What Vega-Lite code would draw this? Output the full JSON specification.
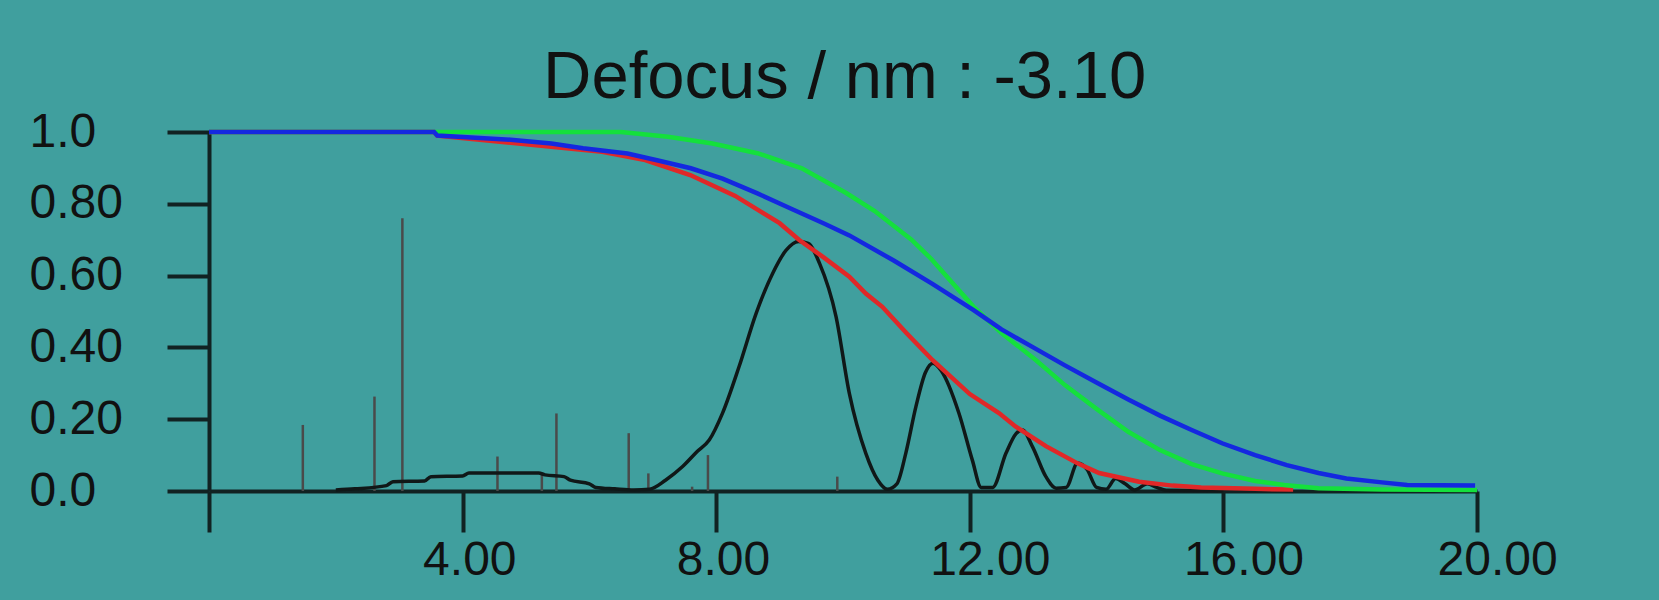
{
  "$schema": "https://vega.github.io/schema/vega-lite/v6.json",
  "width": 1268,
  "height": 359,
  "autosize": {"type": "none"},
  "padding": {"left": 209, "top": 132, "right": 182, "bottom": 109},
  "background": "#409f9e",
  "title": {
    "text": "Defocus / nm : -3.10",
    "anchor": "start",
    "frame": "group",
    "dx": 334,
    "dy": 65,
    "offset": 8,
    "baseline": "alphabetic",
    "font": "Liberation Sans",
    "fontSize": 67,
    "fontWeight": "normal",
    "color": "#111"
  },
  "config": {
    "view": {"stroke": null},
    "axis": {
      "grid": false,
      "title": null,
      "domainColor": "#112222",
      "domainWidth": 4,
      "tickColor": "#112222",
      "tickWidth": 4,
      "labelColor": "#111",
      "labelFont": "Liberation Sans",
      "labelFontSize": 48,
      "labelOverlap": false,
      "labelFlush": false
    }
  },
  "datasets": {
    "spikes": [
      {"x": 1.48, "y": 0.184}, {"x": 2.61, "y": 0.263}, {"x": 3.05, "y": 0.76},
      {"x": 4.55, "y": 0.096}, {"x": 5.25, "y": 0.045}, {"x": 5.48, "y": 0.216},
      {"x": 6.62, "y": 0.161}, {"x": 6.93, "y": 0.049}, {"x": 7.62, "y": 0.012},
      {"x": 7.87, "y": 0.1}, {"x": 9.91, "y": 0.04}
    ],
    "black": [
      {"x": 2.0, "y": 0.003}, {"x": 2.3, "y": 0.006}, {"x": 2.8, "y": 0.015}, {"x": 2.9, "y": 0.026},
      {"x": 3.4, "y": 0.028}, {"x": 3.5, "y": 0.04}, {"x": 4.0, "y": 0.042}, {"x": 4.1, "y": 0.05},
      {"x": 5.2, "y": 0.05}, {"x": 5.3, "y": 0.045}, {"x": 5.6, "y": 0.04}, {"x": 5.7, "y": 0.03},
      {"x": 6.0, "y": 0.02}, {"x": 6.1, "y": 0.01}, {"x": 6.4, "y": 0.006}, {"x": 6.7, "y": 0.003},
      {"x": 6.95, "y": 0.005}, {"x": 7.2, "y": 0.03}, {"x": 7.47, "y": 0.068}, {"x": 7.7, "y": 0.11},
      {"x": 7.89, "y": 0.142}, {"x": 8.1, "y": 0.217}, {"x": 8.36, "y": 0.346}, {"x": 8.63, "y": 0.495},
      {"x": 8.89, "y": 0.606}, {"x": 9.1, "y": 0.67}, {"x": 9.3, "y": 0.695}, {"x": 9.45, "y": 0.69},
      {"x": 9.63, "y": 0.634}, {"x": 9.89, "y": 0.486}, {"x": 10.1, "y": 0.272}, {"x": 10.36, "y": 0.105},
      {"x": 10.55, "y": 0.03}, {"x": 10.7, "y": 0.005}, {"x": 10.85, "y": 0.02}, {"x": 10.99, "y": 0.105},
      {"x": 11.15, "y": 0.235}, {"x": 11.3, "y": 0.33}, {"x": 11.42, "y": 0.356}, {"x": 11.55, "y": 0.335},
      {"x": 11.83, "y": 0.216}, {"x": 12.04, "y": 0.086}, {"x": 12.18, "y": 0.01}, {"x": 12.36, "y": 0.01},
      {"x": 12.57, "y": 0.105}, {"x": 12.73, "y": 0.16}, {"x": 12.83, "y": 0.17}, {"x": 12.99, "y": 0.123},
      {"x": 13.2, "y": 0.04}, {"x": 13.36, "y": 0.008}, {"x": 13.52, "y": 0.01}, {"x": 13.7, "y": 0.078},
      {"x": 13.85, "y": 0.06}, {"x": 14.0, "y": 0.01}, {"x": 14.15, "y": 0.005}, {"x": 14.3, "y": 0.035},
      {"x": 14.45, "y": 0.02}, {"x": 14.6, "y": 0.003}, {"x": 14.8, "y": 0.02}, {"x": 14.95, "y": 0.01},
      {"x": 15.1, "y": 0.002}, {"x": 16.0, "y": 0.001}
    ],
    "red": [
      {"x": 0, "y": 1}, {"x": 3.55, "y": 1}, {"x": 3.6, "y": 0.99}, {"x": 6.2, "y": 0.945},
      {"x": 6.88, "y": 0.922}, {"x": 7.59, "y": 0.88}, {"x": 8.3, "y": 0.822}, {"x": 9.0, "y": 0.746},
      {"x": 9.31, "y": 0.699}, {"x": 9.7, "y": 0.65}, {"x": 10.1, "y": 0.597}, {"x": 10.36, "y": 0.55},
      {"x": 10.62, "y": 0.513}, {"x": 11.0, "y": 0.44}, {"x": 11.41, "y": 0.365}, {"x": 12.0, "y": 0.27},
      {"x": 12.46, "y": 0.217}, {"x": 12.72, "y": 0.18}, {"x": 13.2, "y": 0.125}, {"x": 13.7, "y": 0.077},
      {"x": 14.04, "y": 0.05}, {"x": 14.67, "y": 0.026}, {"x": 15.2, "y": 0.015}, {"x": 15.65, "y": 0.01},
      {"x": 16.5, "y": 0.006}, {"x": 17.1, "y": 0.004}
    ],
    "green": [
      {"x": 0, "y": 1}, {"x": 6.5, "y": 1}, {"x": 7.24, "y": 0.987}, {"x": 7.94, "y": 0.968},
      {"x": 8.65, "y": 0.941}, {"x": 9.35, "y": 0.899}, {"x": 10.05, "y": 0.83}, {"x": 10.5, "y": 0.78},
      {"x": 11.08, "y": 0.7}, {"x": 11.4, "y": 0.645}, {"x": 12.06, "y": 0.513}, {"x": 12.5, "y": 0.44},
      {"x": 13.04, "y": 0.365}, {"x": 13.5, "y": 0.295}, {"x": 14.02, "y": 0.226}, {"x": 14.5, "y": 0.165},
      {"x": 15.0, "y": 0.114}, {"x": 15.5, "y": 0.075}, {"x": 15.98, "y": 0.049}, {"x": 16.5, "y": 0.028},
      {"x": 16.96, "y": 0.017}, {"x": 17.5, "y": 0.008}, {"x": 18.5, "y": 0.004}, {"x": 20, "y": 0.003}
    ],
    "blue": [
      {"x": 0, "y": 1}, {"x": 3.55, "y": 1}, {"x": 3.6, "y": 0.99}, {"x": 4.8, "y": 0.978},
      {"x": 5.4, "y": 0.968}, {"x": 5.9, "y": 0.955}, {"x": 6.6, "y": 0.94}, {"x": 7.1, "y": 0.92},
      {"x": 7.6, "y": 0.899}, {"x": 8.1, "y": 0.87}, {"x": 8.65, "y": 0.829}, {"x": 9.2, "y": 0.785},
      {"x": 9.7, "y": 0.745}, {"x": 10.1, "y": 0.712}, {"x": 10.8, "y": 0.642}, {"x": 11.41, "y": 0.577},
      {"x": 12.06, "y": 0.504}, {"x": 12.5, "y": 0.45}, {"x": 13.0, "y": 0.4}, {"x": 13.5, "y": 0.35},
      {"x": 14.02, "y": 0.3}, {"x": 14.5, "y": 0.255}, {"x": 15.0, "y": 0.21}, {"x": 15.5, "y": 0.17},
      {"x": 15.98, "y": 0.133}, {"x": 16.5, "y": 0.1}, {"x": 17.0, "y": 0.072}, {"x": 17.5, "y": 0.05},
      {"x": 17.94, "y": 0.035}, {"x": 18.5, "y": 0.024}, {"x": 18.9, "y": 0.017}, {"x": 19.97, "y": 0.015}
    ]
  },
  "encoding": {
    "x": {
      "field": "x", "type": "quantitative",
      "scale": {"domain": [0, 20], "nice": false, "zero": false},
      "axis": {
        "values": [0, 4, 8, 12, 16, 20],
        "tickSize": 41,
        "labelExpr": "datum.value == 0 ? '' : format(datum.value, '.2f')",
        "labelAlign": "left",
        "labelBaseline": "top",
        "labelOffset": -40,
        "labelPadding": 4
      }
    },
    "y": {
      "field": "y", "type": "quantitative",
      "scale": {"domain": [0, 1], "nice": false},
      "axis": {
        "values": [0, 0.2, 0.4, 0.6, 0.8, 1.0],
        "tickSize": 42,
        "labelExpr": "datum.value == 0 ? '0.0' : datum.value == 1 ? '1.0' : format(datum.value, '.2f')",
        "labelAlign": "left",
        "labelBaseline": "middle",
        "labelPadding": 138
      }
    }
  },
  "layer": [
    {"data": {"name": "spikes"}, "mark": {"type": "rule", "color": "#4a4a4a", "strokeWidth": 2.5}, "encoding": {"y2": {"datum": 0}}},
    {"data": {"name": "black"}, "mark": {"type": "line", "color": "#101818", "strokeWidth": 3.5, "interpolate": "monotone"}},
    {"data": {"name": "red"}, "mark": {"type": "line", "color": "#e02828", "strokeWidth": 4.5}},
    {"data": {"name": "green"}, "mark": {"type": "line", "color": "#14e03c", "strokeWidth": 4.5}},
    {"data": {"name": "blue"}, "mark": {"type": "line", "color": "#1428e0", "strokeWidth": 4.5}}
  ]
}
